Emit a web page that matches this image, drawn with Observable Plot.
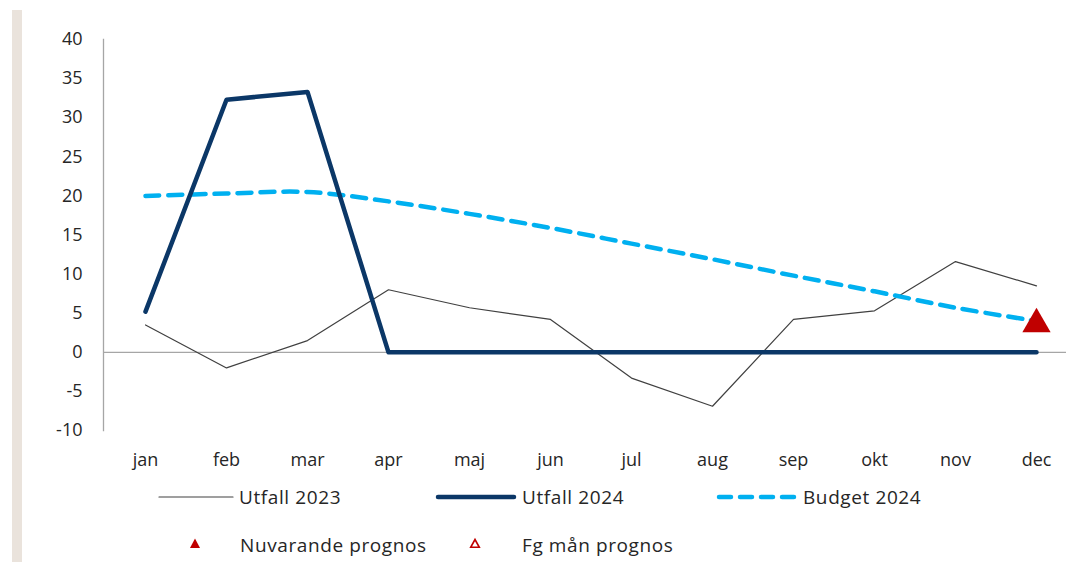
<!DOCTYPE html>
<html>
<head>
<meta charset="utf-8">
<script src="https://cdn.jsdelivr.net/npm/d3@7"></script>
<script src="https://cdn.jsdelivr.net/npm/@observablehq/plot@0.6"></script>
<style>
  html, body { margin: 0; padding: 0; background: #fff; }
  body { width: 1066px; height: 564px; position: relative; overflow: hidden; font-family: "Open Sans", sans-serif; color: #262626; }
  #strip { position: absolute; left: 12px; top: 10px; width: 10px; height: 552px; background: #EAE3DC; }
  #chart { position: absolute; left: 0; top: 0; }
  .leg { position: absolute; font-size: 19px; line-height: 20px; white-space: nowrap; letter-spacing: 0.6px; }
  .sym { position: absolute; }
</style>
</head>
<body>
<div id="strip"></div>
<div id="chart"></div>
<div id="legend"></div>
<script>
const months = ["jan","feb","mar","apr","maj","jun","jul","aug","sep","okt","nov","dec"];
const utfall2023 = [3.5, -2.0, 1.5, 8.0, 5.7, 4.2, -3.3, -6.9, 4.2, 5.3, 11.6, 8.5];
const utfall2024 = [5.2, 32.3, 33.3, 0, 0, 0, 0, 0, 0, 0, 0, 0];
const budget2024 = [20.0, 20.3, 20.5, 19.3, 17.7, 15.9, 13.9, 11.9, 9.8, 7.8, 5.7, 4.0];
const prognosMonth = ["dec"];
const prognosValue = [3.6];
const yTicks = [-10, -5, 0, 5, 10, 15, 20, 25, 30, 35, 40];

const seriesNames = ["Utfall 2023", "Utfall 2024", "Budget 2024", "Nuvarande prognos", "Fg mån prognos"];
const colors = { u23: "#404040", u24: "#0B3767", bud: "#00B0F0", prog: "#C00000", axis: "#A6A6A6" };

const d23 = months.map((m, i) => ({ m, v: utfall2023[i] }));
const d24 = months.map((m, i) => ({ m, v: utfall2024[i] }));
const dB = months.map((m, i) => ({ m, v: budget2024[i] }));
const dP = prognosMonth.map((m, i) => ({ m, v: prognosValue[i] }));

const chart = Plot.plot({
  width: 1066,
  height: 480,
  marginLeft: 103,
  marginRight: 0,
  marginTop: 39,
  marginBottom: 50,
  style: { fontFamily: "'Open Sans', sans-serif", fontSize: "18px", color: "#262626", background: "transparent" },
  x: { type: "point", domain: months, range: [143, 1037], padding: 0, label: null },
  y: { domain: [-10, 40], label: null },
  marks: [
    Plot.frame({ anchor: "left", stroke: colors.axis, strokeWidth: 1.3 }),
    Plot.ruleY([0], { stroke: colors.axis, strokeWidth: 1.3 }),
    Plot.axisY({ ticks: yTicks, tickSize: 0, tickPadding: 21, fontSize: 18, label: null, tickFormat: d => String(d) }),
    Plot.axisX({ tickSize: 0, tickPadding: 23, fontSize: 18, label: null }),
    Plot.line(d23, { x: "m", y: "v", stroke: colors.u23, strokeWidth: 1.2 }),
    Plot.line(dB, { x: "m", y: "v", stroke: colors.bud, strokeWidth: 4.5, strokeDasharray: "14,9", curve: "catmull-rom" }),
    Plot.line(d24, { x: "m", y: "v", stroke: colors.u24, strokeWidth: 4.5, strokeLinejoin: "round", strokeLinecap: "round" }),
    Plot.dot(dP, { x: "m", y: "v", symbol: "triangle", r: 10.5, fill: colors.prog, stroke: "none" })
  ]
});
document.getElementById("chart").appendChild(chart);

// Legend
const legend = document.getElementById("legend");
function addLine(x1, x2, y, color, width, dash) {
  const s = document.createElementNS("http://www.w3.org/2000/svg", "svg");
  s.setAttribute("class", "sym");
  s.setAttribute("width", x2 - x1 + 10);
  s.setAttribute("height", 12);
  s.style.left = (x1 - 5) + "px";
  s.style.top = (y - 6) + "px";
  const l = document.createElementNS("http://www.w3.org/2000/svg", "line");
  l.setAttribute("x1", 5); l.setAttribute("x2", x2 - x1 + 5);
  l.setAttribute("y1", 6); l.setAttribute("y2", 6);
  l.setAttribute("stroke", color); l.setAttribute("stroke-width", width);
  l.setAttribute("stroke-linecap", "round");
  if (dash) l.setAttribute("stroke-dasharray", dash);
  s.appendChild(l);
  legend.appendChild(s);
}
function addTri(cx, cy, filled) {
  const s = document.createElementNS("http://www.w3.org/2000/svg", "svg");
  s.setAttribute("class", "sym");
  s.setAttribute("width", 16); s.setAttribute("height", 16);
  s.style.left = (cx - 8) + "px"; s.style.top = (cy - 8) + "px";
  const p = document.createElementNS("http://www.w3.org/2000/svg", "path");
  p.setAttribute("d", filled ? "M8,2.5 L13,12 L3,12 Z" : "M8,3.5 L12.3,11.3 L3.7,11.3 Z");
  p.setAttribute("fill", filled ? colors.prog : "none");
  p.setAttribute("stroke", colors.prog);
  p.setAttribute("stroke-width", filled ? 0 : 1.6);
  s.appendChild(p);
  legend.appendChild(s);
}
function addText(x, y, t) {
  const d = document.createElement("div");
  d.className = "leg";
  d.style.left = x + "px"; d.style.top = (y - 10) + "px";
  d.textContent = t;
  legend.appendChild(d);
}
addLine(159, 233, 497, colors.u23, 1.2);
addText(239, 497, seriesNames[0]);
addLine(438, 514, 497, colors.u24, 4.5);
addText(522, 497, seriesNames[1]);
addLine(719, 795, 497, colors.bud, 4.5, "12,9");
addText(803, 497, seriesNames[2]);
addTri(195, 544, true);
addText(240, 545, seriesNames[3]);
addTri(475, 544, false);
addText(522, 545, seriesNames[4]);
</script>
</body>
</html>
